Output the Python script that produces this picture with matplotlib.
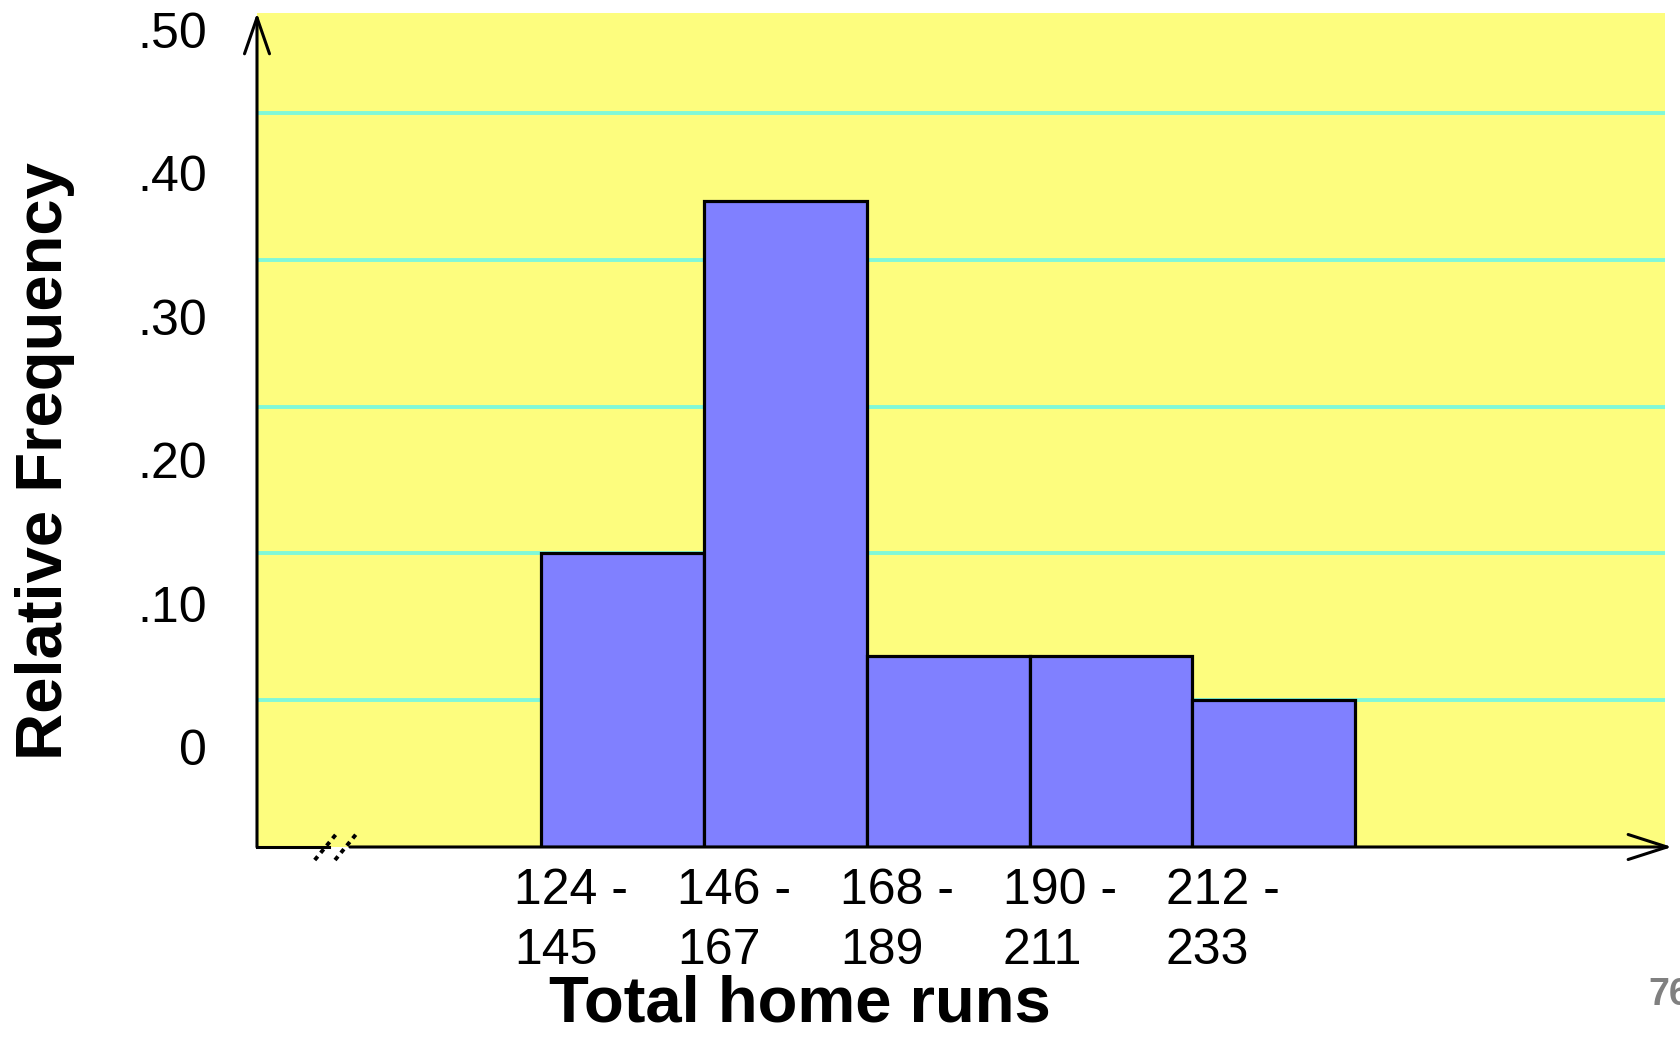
import matplotlib.pyplot as plt

# data
class_low = [124, 146, 168, 190, 212]
class_high = [145, 167, 189, 211, 233]
rel_freq = [0.20, 0.44, 0.13, 0.13, 0.10]
ytick_vals = [0, 0.10, 0.20, 0.30, 0.40, 0.50]
ytick_text = ["0", ".10", ".20", ".30", ".40", ".50"]
grid_vals = [0.10, 0.20, 0.30, 0.40, 0.50]

edges = [lo - 0.5 for lo in class_low]
widths = [hi - lo + 1 for lo, hi in zip(class_low, class_high)]
xlabels = ["%d -\n%d" % (lo, hi) for lo, hi in zip(class_low, class_high)]

fig = plt.figure(figsize=(16.81, 10.38), dpi=100)
ax = fig.add_axes([257/1681, 191/1038, 1408/1681, 834/1038])
ax.set_facecolor("#FDFD7E")

for v in grid_vals:
    ax.axhline(v, color="#80F8D8", lw=2.8, zorder=1)

ax.bar(edges, rel_freq, width=widths, align="edge", color="#8080FF",
       edgecolor="black", linewidth=2.3, zorder=3)

ax.set_xlim(85.2, 275.3)
ax.set_ylim(0, 0.568)

for s in ax.spines.values():
    s.set_visible(False)

# the slide prints its y labels a bit above the lines
ax.set_yticks([0.068 + v * 0.977 for v in ytick_vals])
ax.set_yticklabels(ytick_text, fontsize=36, family=["Liberation Sans", "DejaVu Sans"])
ax.set_xticks([e - 3.6 for e in edges])
ax.set_xticklabels(xlabels, fontsize=36, family=["Liberation Sans", "DejaVu Sans"],
                   ha="left", linespacing=1.38)
ax.tick_params(axis="y", length=0, pad=36)
ax.tick_params(axis="x", length=0, pad=15)

ax.set_ylabel("Relative Frequency", fontsize=47, fontweight="bold",
              family=["Liberation Sans", "DejaVu Sans"], va="center")
ax.yaxis.set_label_coords(-0.1506, 0.463)
ax.set_xlabel("Total home runs", fontsize=47, fontweight="bold",
              family=["Liberation Sans", "DejaVu Sans"], va="center")
ax.xaxis.set_label_coords(0.3857, -0.189)

# axes drawn by hand: arrows and the // break
ax.annotate("", xy=(0, 1.0), xytext=(0, 0), xycoords="axes fraction",
            arrowprops=dict(arrowstyle="->,head_length=1.3,head_width=0.45",
                            lw=2.2, color="black", mutation_scale=20,
                            shrinkA=0, shrinkB=0),
            annotation_clip=False, zorder=5)
ax.plot([0, 0.051], [0, 0], color="black", lw=2.2, transform=ax.transAxes,
        clip_on=False, zorder=5)
ax.annotate("", xy=(1.005, 0), xytext=(0.066, 0), xycoords="axes fraction",
            arrowprops=dict(arrowstyle="->,head_length=1.4,head_width=0.45",
                            lw=2.2, color="black", mutation_scale=20,
                            shrinkA=0, shrinkB=0),
            annotation_clip=False, zorder=5)
ax.plot([0.041, 0.0575], [-0.0156, 0.018], color="black", lw=2.8, ls=(0, (1.2, 1.2)),
        transform=ax.transAxes, clip_on=False, zorder=5)
ax.plot([0.0554, 0.0717], [-0.0156, 0.018], color="black", lw=2.8, ls=(0, (1.2, 1.2)),
        transform=ax.transAxes, clip_on=False, zorder=5)

# slide number, cut by the right edge as on the slide
fig.text(0.9804, 0.0414, "76", fontsize=27, fontweight="bold", color="#808080",
         ha="left", va="center", family=["Liberation Sans", "DejaVu Sans"])

fig.savefig("out.png", dpi=100)
